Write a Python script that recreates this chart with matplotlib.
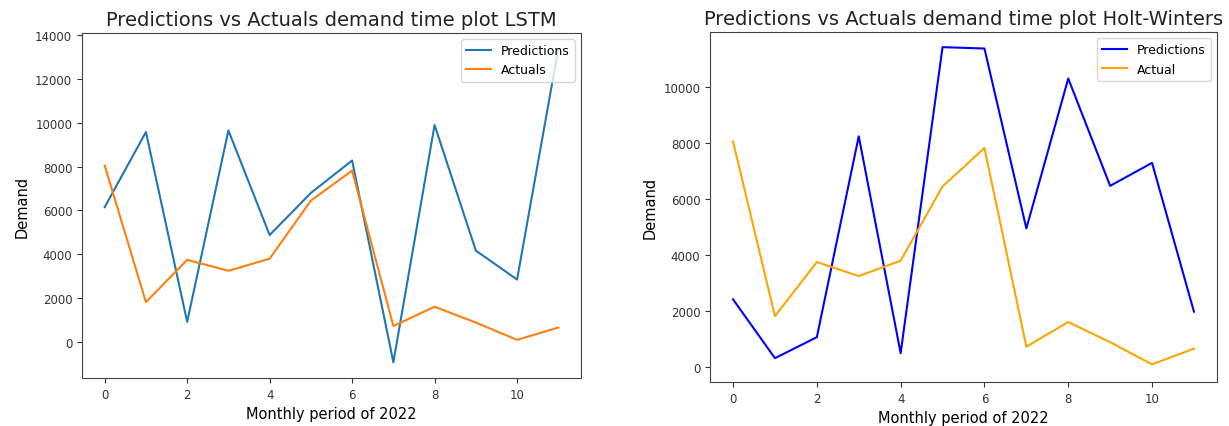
import numpy as np
import matplotlib
matplotlib.use("Agg")
import matplotlib.pyplot as plt

# データ
months = list(range(12))
lstm_pred = [6150, 9580, 920, 9650, 4880, 6800, 8280, -925, 9900, 4170, 2850, 13380]
actuals = [8050, 1820, 3750, 3250, 3800, 6450, 7820, 730, 1610, 890, 100, 660]
hw_pred = [2420, 320, 1070, 8240, 500, 11420, 11370, 4950, 10300, 6470, 7290, 1980]

fig = plt.figure(figsize=(12.29, 4.27), dpi=100)
W, H = 1229, 427

# 左: LSTM
ax1 = fig.add_axes([82 / W, 1 - 379 / H, (581 - 82) / W, (379 - 34) / H])
ax1.plot(months, lstm_pred, color="tab:blue", lw=1.5, label="Predictions")
ax1.plot(months, actuals, color="tab:orange", lw=1.5, label="Actuals")
ax1.set_title("Predictions vs Actuals demand time plot LSTM", fontsize=14)
ax1.set_xlabel("Monthly period of 2022", fontsize=10.5)
ax1.set_ylabel("Demand", fontsize=10.5)
ax1.legend(loc="upper right", fontsize=9)

# 右: Holt-Winters
ax2 = fig.add_axes([710 / W, 1 - 383 / H, (1217 - 710) / W, (383 - 33) / H])
ax2.plot(months, hw_pred, color="blue", lw=1.5, label="Predictions")
ax2.plot(months, actuals, color="orange", lw=1.5, label="Actual")
ax2.set_title("Predictions vs Actuals demand time plot Holt-Winters", fontsize=14)
ax2.set_xlabel("Monthly period of 2022", fontsize=10.5)
ax2.set_ylabel("Demand", fontsize=10.5)
ax2.set_ylim(-530, 11960)
ax2.legend(loc="upper right", fontsize=9)

for ax in (ax1, ax2):
    ax.tick_params(labelsize=8.5, colors="#333333")
    ax.title.set_color("#222222")
    for s in ax.spines.values():
        s.set_color("#444444")

fig.savefig("out.png", dpi=100)
